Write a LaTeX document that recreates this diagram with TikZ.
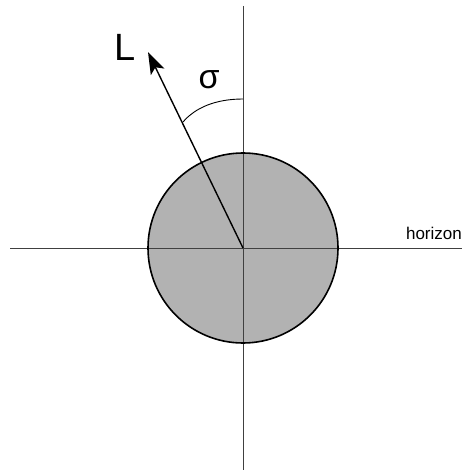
\documentclass[tikz,border=0pt]{standalone}
\usepackage{fontspec}
\setmainfont{Liberation Sans}
\usetikzlibrary{arrows.meta}
\begin{document}
\begin{tikzpicture}[x=1pt,y=-1pt,
  axis/.style={draw=black!75,line width=1pt},
  label/.style={inner sep=0pt,text=black}]
\useasboundingbox (0,0) rectangle (466,470);
\coordinate (O) at (243,248);
\coordinate (top) at (243,6);
\coordinate (bot) at (243,470);
\coordinate (left) at (10,248);
\coordinate (right) at (462,248);
\fill[black!30] (O) circle (95);
\draw[axis] (top) -- (bot);
\draw[axis] (left) -- (right);
\draw[line width=1.6pt] (O) circle (95);
\coordinate (tip) at (148,52);
\draw[line width=1.4pt,-{Stealth[length=22pt,width=15pt,inset=5pt]}] (O) -- (tip);
\coordinate (a1) at (243,99);
\coordinate (a2) at (183,122);
\draw[line width=0.9pt] (a1) .. controls (215,99) and (195,108) .. (a2);
\node[label,font=\fontsize{38}{40}\selectfont] (L) at (125,47) {L};
\node[label,font=\fontsize{34}{36}\selectfont] (s) at (209,80) {σ};
\node[label,font=\fontsize{17}{19}\selectfont,anchor=base east] (h) at (462,239) {horizon};
\end{tikzpicture}
\end{document}
